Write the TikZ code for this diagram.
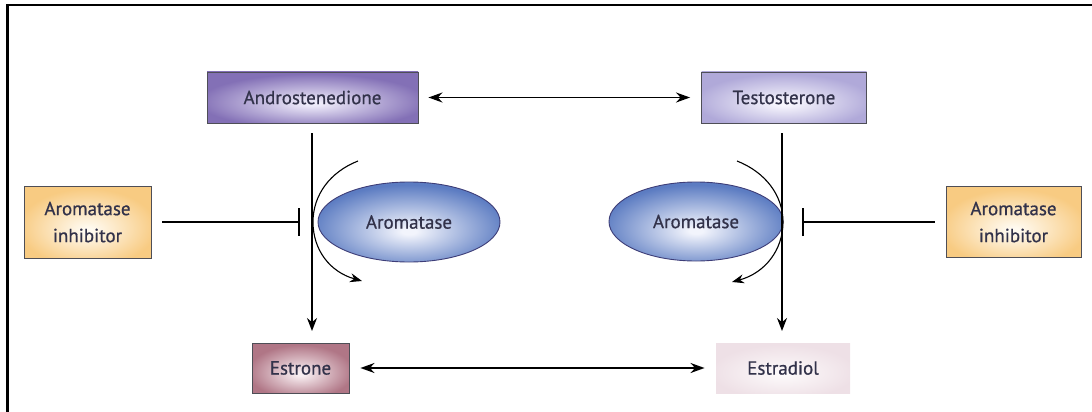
\documentclass[tikz,border=0pt]{standalone}
\usepackage{fontspec}
\setmainfont{PT Sans}[FakeBold=0.7]
\usetikzlibrary{arrows.meta,shapes.geometric}
\definecolor{txt}{HTML}{32324A}
\definecolor{edge}{HTML}{4E4E56}
\definecolor{aroOut}{HTML}{5C7CC2}
\definecolor{aroIn}{HTML}{F2F4FC}
\definecolor{andIn}{HTML}{EEEBFA}
\definecolor{andOut}{HTML}{8370B6}
\definecolor{tesIn}{HTML}{F7F6FD}
\definecolor{tesOut}{HTML}{B0A9D9}
\definecolor{e1In}{HTML}{F8EEF1}
\definecolor{e1Out}{HTML}{B07686}
\definecolor{e2In}{HTML}{FCF9FA}
\definecolor{e2Out}{HTML}{EEE0E6}
\definecolor{inhIn}{HTML}{FFFAF0}
\definecolor{inhOut}{HTML}{F8CB82}
\colorlet{shIn}{white}
\colorlet{shOut}{gray}
\pgfdeclareradialshading[shIn,shOut]{soft}{\pgfpoint{0bp}{-6bp}}{color(0bp)=(shIn); color(2bp)=(shIn); color(27bp)=(shOut); color(72bp)=(shOut)}
\tikzset{
  fillin/.code={\colorlet{shIn}{#1}},
  fillout/.code={\colorlet{shOut}{#1}},
  box/.style={draw=edge, line width=0.9pt, shading=soft, text=txt, font=\fontsize{19}{27}\selectfont, inner sep=0pt, anchor=center},
  enz/.style={ellipse, draw=edge!80!blue, line width=0.9pt, fillin=aroIn, fillout=aroOut, shading=soft, text=txt, font=\fontsize{19}{27}\selectfont, inner sep=0pt},
  conv/.style={line width=1.5pt, -{Stealth[length=13pt,width=10pt]}},
  dbl/.style={line width=1.8pt, {Stealth[length=14pt,width=10pt]}-{Stealth[length=14pt,width=10pt]}},
  inhib/.style={line width=1.6pt, -{Bar[width=28pt,line width=1.8pt]}},
  turn/.style={line width=1.1pt, -{Stealth[length=12pt,width=9pt]}},
  frame/.style={line width=2.6pt, black}
}
\begin{document}
\begin{tikzpicture}[x=1pt,y=-1pt]
\useasboundingbox (0,0) rectangle (1092,412);
\draw[frame] (7.5,412) -- (7.5,5) -- (1092,5);
% boxes
\node[box, minimum width=211pt, minimum height=51pt, fillin=andIn, fillout=andOut] (andro) at (312.5,97.5) {Androstenedione};
\node[box, minimum width=165pt, minimum height=51pt, fillin=tesIn, fillout=tesOut] (testo) at (784,97.5) {Testosterone};
\node[box, minimum width=97pt, minimum height=50pt, fillin=e1In, fillout=e1Out] (estrone) at (300.5,368) {Estrone};
\node[box, draw=none, minimum width=134pt, minimum height=50pt, fillin=e2In, fillout=e2Out] (estradiol) at (783,368) {Estradiol};
\node[box, align=center, minimum width=127pt, minimum height=72pt, fillin=inhIn, fillout=inhOut] (inhL) at (87.5,222) {Aromatase\\inhibitor};
\node[box, align=center, minimum width=135pt, minimum height=71pt, fillin=inhIn, fillout=inhOut] (inhR) at (1013.5,222) {Aromatase\\inhibitor};
% enzymes
\node[enz, minimum width=182pt, minimum height=80pt] (aroL) at (409,222) {Aromatase};
\node[enz, minimum width=174pt, minimum height=79pt] (aroR) at (696,221.5) {Aromatase};
% conversions
\draw[dbl] ([xshift=10pt]andro.east) -- ([xshift=-11pt]testo.west);
\draw[dbl] ([xshift=11pt]estrone.east) -- ([xshift=-11pt]estradiol.west);
\coordinate (lTop) at (312,133);
\coordinate (lBot) at (312,331);
\coordinate (rTop) at (782,133);
\coordinate (rBot) at (782,331);
\draw[conv] (lTop) -- (lBot);
\draw[conv] (rTop) -- (rBot);
% inhibition
\coordinate (barL) at (300,222);
\coordinate (barR) at (802,222);
\draw[inhib] ([xshift=11pt]inhL.east) -- (barL);
\draw[inhib] ([xshift=-11pt]inhR.west) -- (barR);
% turnover arcs
\coordinate (alS) at (358,161);
\coordinate (alM) at (313,222);
\coordinate (alE) at (362,281);
\draw[turn] (alS) .. controls (330,172) and (313,195) .. (alM) .. controls (313,250) and (330,272) .. (alE);
\coordinate (arS) at (737,161);
\coordinate (arM) at (783,222);
\coordinate (arE) at (732,282);
\draw[turn] (arS) .. controls (765,172) and (783,195) .. (arM) .. controls (783,250) and (765,273) .. (arE);
\end{tikzpicture}
\end{document}
